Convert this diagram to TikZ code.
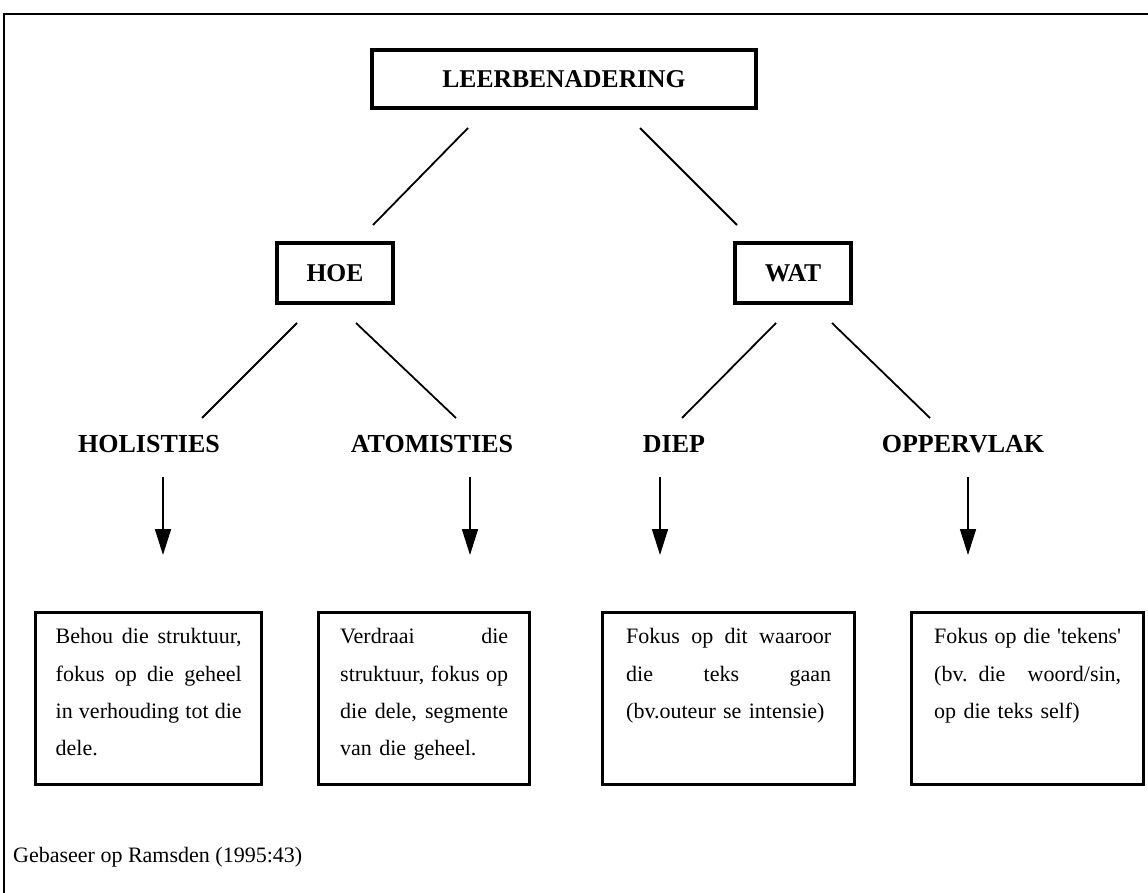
\documentclass[tikz,border=0pt]{standalone}
\usepackage{fontspec}
\setmainfont{Liberation Serif}
\usetikzlibrary{arrows.meta}
\newcommand\jline[1]{\hbox to \hsize{\spaceskip=0.25em plus 1fil\relax #1}}
\newcommand\lline[1]{\hbox{#1}}
\tikzset{
  titlebox/.style={draw, line width=3.2pt, font=\fontsize{25.6}{30}\selectfont\bfseries, inner sep=0pt},
  lvl/.style={font=\fontsize{26}{30}\selectfont\bfseries, inner sep=0pt, anchor=base},
  conn/.style={line width=1.8pt},
  arr/.style={line width=1.6pt, -{Triangle[width=16pt,length=26pt]}},
  descbox/.style={draw, line width=3.4pt, anchor=north west, inner ysep=0pt, font=\fontsize{22}{37.3}\selectfont, align=left},
}
\begin{document}
\begin{tikzpicture}[x=1pt,y=-1pt]
\useasboundingbox (0,0) rectangle (1148,893);
% outer frame (top and left)
\draw[line width=2pt] (4,893) -- (4,14) -- (1148,14);
% top levels
\node[titlebox, minimum width=384pt, minimum height=58pt] (leer) at (564,79) {LEERBENADERING};
\node[titlebox, minimum width=116pt, minimum height=60pt] (hoe) at (335,273) {HOE};
\node[titlebox, minimum width=116pt, minimum height=60pt] (wat) at (793,273) {WAT};
% connector end points
\coordinate (l1a) at (468,128); \coordinate (l1b) at (373,225);
\coordinate (l2a) at (640,128); \coordinate (l2b) at (737,225);
\coordinate (m1a) at (297,323); \coordinate (m1b) at (202,418);
\coordinate (m2a) at (356,323); \coordinate (m2b) at (456,418);
\coordinate (m3a) at (776,323); \coordinate (m3b) at (682,418);
\coordinate (m4a) at (832,323); \coordinate (m4b) at (930,418);
\draw[conn] (l1a) -- (l1b);
\draw[conn] (l2a) -- (l2b);
\draw[conn] (m1a) -- (m1b);
\draw[conn] (m2a) -- (m2b);
\draw[conn] (m3a) -- (m3b);
\draw[conn] (m4a) -- (m4b);
% third level labels
\node[lvl] (hol) at (149,452) {HOLISTIES};
\node[lvl] (ato) at (432,452) {ATOMISTIES};
\node[lvl] (die) at (674,452) {DIEP};
\node[lvl] (opp) at (963,452) {OPPERVLAK};
% arrows
\coordinate (a1s) at (163,477); \coordinate (a1e) at (163,555);
\coordinate (a2s) at (470,477); \coordinate (a2e) at (470,555);
\coordinate (a3s) at (660,477); \coordinate (a3e) at (660,555);
\coordinate (a4s) at (968,477); \coordinate (a4e) at (968,555);
\draw[arr] (a1s) -- (a1e);
\draw[arr] (a2s) -- (a2e);
\draw[arr] (a3s) -- (a3e);
\draw[arr] (a4s) -- (a4e);
% description boxes
\node[descbox, text width=186pt, inner xsep=20pt] (b1) at (34,611)
  {\vbox to 172pt{\vskip 16pt
   \jline{Behou die struktuur,}\jline{fokus op die geheel}\jline{in verhouding tot die}\lline{dele.}\vfill}};
\node[descbox, text width=168pt, inner xsep=21.5pt] (b2) at (317,611)
  {\vbox to 172pt{\vskip 16pt
   \jline{Verdraai die}\jline{struktuur, fokus op}\jline{die dele, segmente}\lline{van die geheel.}\vfill}};
\node[descbox, text width=205pt, inner xsep=23.5pt] (b3) at (601,611)
  {\vbox to 172pt{\vskip 16pt
   \jline{Fokus op dit waaroor}\jline{die teks gaan}\lline{(bv.outeur se intensie)}\vfill}};
\node[descbox, text width=187pt, inner xsep=22.5pt] (b4) at (910,611)
  {\vbox to 172pt{\vskip 16pt
   \jline{Fokus op die \textquotesingle tekens\textquotesingle}\jline{(bv. die woord/sin,}\lline{op die teks self)}\vfill}};
% source
\node[anchor=base west, inner sep=0pt, font=\fontsize{22}{26}\selectfont] (src) at (13,862) {Gebaseer op Ramsden (1995:43)};
\end{tikzpicture}
\end{document}
